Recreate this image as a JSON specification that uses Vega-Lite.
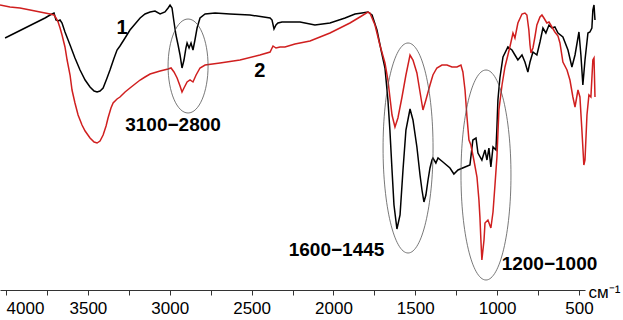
{
  "$schema": "https://vega.github.io/schema/vega-lite/v6.json",
  "width": 585,
  "height": 290,
  "autosize": {"type": "none"},
  "padding": {"left": 0, "top": 0, "right": 38, "bottom": 30},
  "background": "white",
  "config": {"view": {"stroke": null}, "font": "Liberation Sans"},
  "datasets": {
    "black": [
      {"wn":4006,"t":252},{"wn":3945,"t":257},{"wn":3884,"t":262},{"wn":3823,"t":267},{"wn":3762,"t":272},{"wn":3731,"t":275},{"wn":3707,"t":277},{"wn":3695,"t":270},{"wn":3682,"t":269},{"wn":3670,"t":270},{"wn":3658,"t":267},{"wn":3640,"t":258},{"wn":3609,"t":245},{"wn":3579,"t":232},{"wn":3548,"t":220},{"wn":3517,"t":210},{"wn":3487,"t":203},{"wn":3462,"t":199},{"wn":3444,"t":198},{"wn":3426,"t":199},{"wn":3407,"t":202},{"wn":3383,"t":212},{"wn":3365,"t":220},{"wn":3340,"t":232},{"wn":3322,"t":240},{"wn":3304,"t":244},{"wn":3273,"t":252},{"wn":3243,"t":260},{"wn":3212,"t":266},{"wn":3181,"t":272},{"wn":3151,"t":276},{"wn":3120,"t":278},{"wn":3090,"t":279},{"wn":3059,"t":276},{"wn":3029,"t":278},{"wn":3010,"t":282},{"wn":2998,"t":285},{"wn":2986,"t":282},{"wn":2974,"t":268},{"wn":2962,"t":255},{"wn":2949,"t":245},{"wn":2937,"t":235},{"wn":2925,"t":222},{"wn":2913,"t":230},{"wn":2901,"t":242},{"wn":2894,"t":247},{"wn":2882,"t":242},{"wn":2870,"t":247},{"wn":2858,"t":240},{"wn":2846,"t":250},{"wn":2833,"t":262},{"wn":2815,"t":272},{"wn":2784,"t":276},{"wn":2723,"t":277},{"wn":2632,"t":276},{"wn":2510,"t":275},{"wn":2387,"t":272},{"wn":2375,"t":270},{"wn":2363,"t":261},{"wn":2351,"t":265},{"wn":2339,"t":267},{"wn":2314,"t":268},{"wn":2265,"t":268},{"wn":2204,"t":268},{"wn":2113,"t":265},{"wn":2021,"t":267},{"wn":1929,"t":272},{"wn":1868,"t":276},{"wn":1826,"t":277},{"wn":1789,"t":278},{"wn":1764,"t":275},{"wn":1734,"t":260},{"wn":1709,"t":240},{"wn":1685,"t":222},{"wn":1667,"t":190},{"wn":1655,"t":160},{"wn":1642,"t":120},{"wn":1630,"t":85},{"wn":1612,"t":61},{"wn":1593,"t":75},{"wn":1575,"t":120},{"wn":1557,"t":160},{"wn":1532,"t":181},{"wn":1514,"t":170},{"wn":1490,"t":143},{"wn":1471,"t":115},{"wn":1459,"t":100},{"wn":1447,"t":88},{"wn":1435,"t":95},{"wn":1422,"t":110},{"wn":1410,"t":122},{"wn":1398,"t":130},{"wn":1392,"t":132},{"wn":1374,"t":127},{"wn":1361,"t":132},{"wn":1331,"t":128},{"wn":1288,"t":122},{"wn":1264,"t":116},{"wn":1239,"t":120},{"wn":1196,"t":123},{"wn":1166,"t":125},{"wn":1148,"t":150},{"wn":1129,"t":152},{"wn":1117,"t":137},{"wn":1093,"t":130},{"wn":1074,"t":140},{"wn":1062,"t":130},{"wn":1050,"t":142},{"wn":1038,"t":123},{"wn":1025,"t":143},{"wn":1007,"t":140},{"wn":1001,"t":163},{"wn":995,"t":190},{"wn":983,"t":212},{"wn":964,"t":233},{"wn":934,"t":243},{"wn":909,"t":240},{"wn":891,"t":235},{"wn":873,"t":230},{"wn":848,"t":235},{"wn":830,"t":228},{"wn":812,"t":218},{"wn":799,"t":228},{"wn":781,"t":238},{"wn":757,"t":235},{"wn":738,"t":248},{"wn":720,"t":262},{"wn":702,"t":257},{"wn":683,"t":265},{"wn":665,"t":262},{"wn":647,"t":263},{"wn":628,"t":257},{"wn":598,"t":253},{"wn":567,"t":240},{"wn":543,"t":223},{"wn":524,"t":235},{"wn":500,"t":258},{"wn":488,"t":235},{"wn":476,"t":205},{"wn":463,"t":230},{"wn":445,"t":257},{"wn":433,"t":258},{"wn":421,"t":262},{"wn":415,"t":280},{"wn":408,"t":285},{"wn":402,"t":270}
    ],
    "red": [
      {"wn":4037,"t":285},{"wn":3976,"t":283},{"wn":3915,"t":282},{"wn":3853,"t":280},{"wn":3792,"t":278},{"wn":3731,"t":276},{"wn":3707,"t":275},{"wn":3695,"t":272},{"wn":3682,"t":268},{"wn":3670,"t":262},{"wn":3658,"t":255},{"wn":3640,"t":243},{"wn":3627,"t":230},{"wn":3609,"t":215},{"wn":3597,"t":200},{"wn":3579,"t":187},{"wn":3560,"t":175},{"wn":3536,"t":165},{"wn":3517,"t":159},{"wn":3487,"t":152},{"wn":3462,"t":148},{"wn":3444,"t":147},{"wn":3426,"t":149},{"wn":3407,"t":155},{"wn":3389,"t":164},{"wn":3377,"t":172},{"wn":3359,"t":182},{"wn":3346,"t":187},{"wn":3322,"t":191},{"wn":3304,"t":193},{"wn":3273,"t":198},{"wn":3243,"t":202},{"wn":3212,"t":206},{"wn":3181,"t":210},{"wn":3151,"t":213},{"wn":3120,"t":216},{"wn":3059,"t":219},{"wn":3010,"t":221},{"wn":2992,"t":222},{"wn":2974,"t":218},{"wn":2955,"t":212},{"wn":2937,"t":204},{"wn":2925,"t":198},{"wn":2913,"t":202},{"wn":2894,"t":208},{"wn":2876,"t":210},{"wn":2858,"t":208},{"wn":2839,"t":215},{"wn":2815,"t":222},{"wn":2784,"t":225},{"wn":2693,"t":227},{"wn":2571,"t":230},{"wn":2449,"t":235},{"wn":2387,"t":238},{"wn":2375,"t":242},{"wn":2369,"t":244},{"wn":2351,"t":242},{"wn":2326,"t":243},{"wn":2296,"t":243},{"wn":2235,"t":246},{"wn":2143,"t":249},{"wn":2082,"t":253},{"wn":2021,"t":257},{"wn":1960,"t":262},{"wn":1899,"t":267},{"wn":1838,"t":273},{"wn":1789,"t":278},{"wn":1777,"t":277},{"wn":1746,"t":265},{"wn":1716,"t":245},{"wn":1685,"t":227},{"wn":1667,"t":210},{"wn":1655,"t":193},{"wn":1642,"t":175},{"wn":1624,"t":163},{"wn":1606,"t":172},{"wn":1581,"t":193},{"wn":1557,"t":215},{"wn":1532,"t":235},{"wn":1514,"t":230},{"wn":1490,"t":217},{"wn":1471,"t":198},{"wn":1453,"t":180},{"wn":1435,"t":190},{"wn":1410,"t":205},{"wn":1392,"t":215},{"wn":1368,"t":222},{"wn":1337,"t":225},{"wn":1306,"t":225},{"wn":1276,"t":223},{"wn":1245,"t":223},{"wn":1221,"t":225},{"wn":1209,"t":218},{"wn":1196,"t":200},{"wn":1184,"t":173},{"wn":1172,"t":150},{"wn":1160,"t":145},{"wn":1142,"t":130},{"wn":1123,"t":113},{"wn":1111,"t":90},{"wn":1105,"t":73},{"wn":1099,"t":50},{"wn":1093,"t":30},{"wn":1080,"t":50},{"wn":1074,"t":67},{"wn":1056,"t":70},{"wn":1038,"t":62},{"wn":1025,"t":78},{"wn":1013,"t":105},{"wn":1001,"t":133},{"wn":989,"t":180},{"wn":970,"t":205},{"wn":952,"t":223},{"wn":934,"t":235},{"wn":922,"t":243},{"wn":903,"t":257},{"wn":891,"t":252},{"wn":873,"t":267},{"wn":848,"t":276},{"wn":830,"t":277},{"wn":818,"t":275},{"wn":806,"t":260},{"wn":799,"t":245},{"wn":793,"t":237},{"wn":781,"t":242},{"wn":769,"t":253},{"wn":757,"t":265},{"wn":738,"t":273},{"wn":726,"t":275},{"wn":714,"t":272},{"wn":696,"t":267},{"wn":683,"t":268},{"wn":665,"t":263},{"wn":647,"t":258},{"wn":628,"t":254},{"wn":616,"t":247},{"wn":598,"t":228},{"wn":573,"t":220},{"wn":555,"t":210},{"wn":537,"t":193},{"wn":524,"t":183},{"wn":506,"t":200},{"wn":494,"t":193},{"wn":482,"t":160},{"wn":470,"t":125},{"wn":463,"t":130},{"wn":451,"t":175},{"wn":439,"t":195},{"wn":427,"t":193},{"wn":415,"t":230},{"wn":408,"t":232},{"wn":402,"t":193}
    ],
    "ellipse_small": [{"wn":2888,"t":224}],
    "ellipse_tall": [{"wn":1544,"t":142},{"wn":1068,"t":115}],
    "num_labels": [{"wn":3291,"t":262,"text":"1"},{"wn":2449,"t":219,"text":"2"}],
    "range_labels": [{"wn":2980,"t":165,"text":"3100−2800"},{"wn":1981,"t":40,"text":"1600−1445"},{"wn":680,"t":26,"text":"1200−1000"}]
  },
  "encoding": {
    "x": {
      "field": "wn",
      "type": "quantitative",
      "scale": {"domain": [463, 4037], "reverse": true, "nice": false, "zero": false},
      "axis": {
        "values": [4000,3750,3500,3250,3000,2750,2500,2250,2000,1750,1500,1250,1000,750,500],
        "format": "d",
        "labelExpr": "datum.value % 500 === 0 ? datum.label : ''",
        "labelAlign": {"condition": {"test": "datum.value === 4000", "value": "left"}, "value": "center"},
        "labelFontSize": 17,
        "labelColor": "#000",
        "labelPadding": 5,
        "labelFont": "Liberation Sans",
        "tickSize": 5,
        "tickColor": "#333",
        "domainColor": "#333",
        "grid": false,
        "labelOverlap": false,
        "title": "см⁻¹",
        "titleFont": "Liberation Sans",
        "titleFontWeight": "normal",
        "titleFontSize": 17,
        "titleColor": "#000",
        "titleX": 588,
        "titleY": 7,
        "titleAlign": "left",
        "titleBaseline": "alphabetic",
        "titleAngle": 0
      }
    },
    "y": {
      "field": "t",
      "type": "quantitative",
      "scale": {"domain": [0, 290], "nice": false, "zero": false},
      "axis": null
    }
  },
  "layer": [
    {"data": {"name": "black"}, "mark": {"type": "line", "color": "#000000", "strokeWidth": 1.5}},
    {"data": {"name": "red"}, "mark": {"type": "line", "color": "#d01f1f", "strokeWidth": 1.5}},
    {"data": {"name": "ellipse_small"}, "mark": {"type": "point", "filled": false, "opacity": 1, "stroke": "#555", "strokeWidth": 0.8, "size": 8836, "shape": "M-0.4255,0A0.4255,1 0 1,0 0.4255,0A0.4255,1 0 1,0 -0.4255,0Z"}},
    {"data": {"name": "ellipse_tall"}, "mark": {"type": "point", "filled": false, "opacity": 1, "stroke": "#555", "strokeWidth": 0.8, "size": 44100, "shape": "M-0.238,0A0.238,1 0 1,0 0.238,0A0.238,1 0 1,0 -0.238,0Z"}},
    {"data": {"name": "num_labels"}, "mark": {"type": "text", "font": "Liberation Sans", "fontWeight": "bold", "fontSize": 20, "color": "#000"}, "encoding": {"text": {"field": "text"}}},
    {"data": {"name": "range_labels"}, "mark": {"type": "text", "font": "Liberation Sans", "fontWeight": "bold", "fontSize": 19, "color": "#000"}, "encoding": {"text": {"field": "text"}}}
  ]
}
